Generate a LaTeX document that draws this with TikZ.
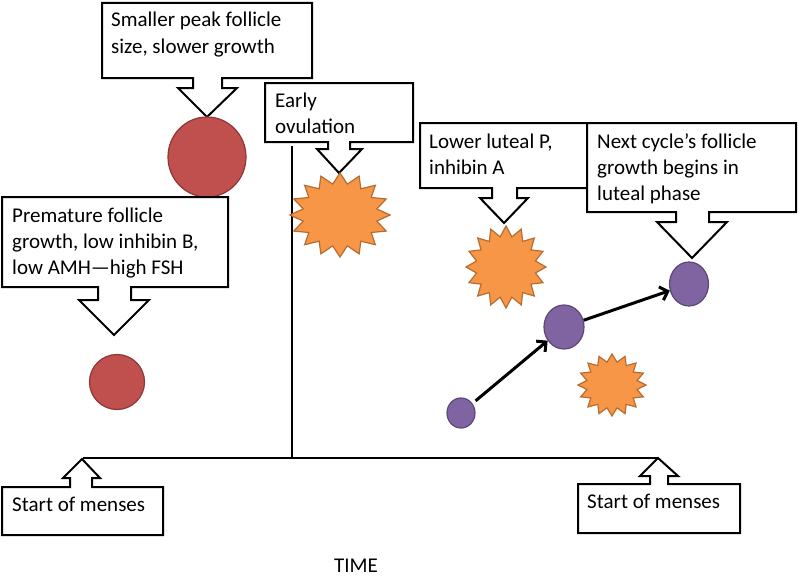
\documentclass[tikz,border=0pt]{standalone}
\usepackage{fontspec}
\setmainfont{Carlito}
\usetikzlibrary{shapes.geometric,arrows.meta}
\definecolor{redf}{HTML}{C0504D}
\definecolor{redd}{HTML}{8C3836}
\definecolor{orf}{HTML}{F79646}
\definecolor{ord}{HTML}{B66D31}
\definecolor{puf}{HTML}{8064A2}
\definecolor{pud}{HTML}{5C4776}
\newcommand\burstshape[4]{%
  \filldraw[burst] ({#1+#3},#2) \foreach \k in {0,...,15}{
    -- ({#1+0.75*#3*cos(\k*22.5+11.25)},{#2+0.75*#4*sin(\k*22.5+11.25)})
    -- ({#1+#3*cos(\k*22.5+22.5)},{#2+#4*sin(\k*22.5+22.5)}) } -- cycle;}
\tikzset{
  callout/.style={draw=black, fill=white, line width=2pt, line join=miter},
  txt/.style={anchor=base west, inner sep=0pt, align=left,
    font=\fontsize{21}{26}\selectfont},
  redball/.style={ellipse, draw=redd, fill=redf, line width=1.2pt, inner sep=0pt},
  purball/.style={ellipse, draw=pud, fill=puf, line width=1.2pt, inner sep=0pt},
  burst/.style={draw=ord, fill=orf, line width=1.2pt},
  axis/.style={draw=black, line width=2pt},
  growth/.style={draw=black, line width=3pt, -{Straight Barb[length=7pt,width=14pt]}}
}
\begin{document}
\begin{tikzpicture}[x=1pt,y=-1pt]
\useasboundingbox (0,0) rectangle (800,578);
\fill[white] (0,0) rectangle (800,578);

% timeline
\coordinate (tl) at (83,458);
\coordinate (tr) at (658,458);
\coordinate (vt) at (292,146);
\coordinate (vb) at (292,458);
\draw[axis] (tl) -- (tr);
\draw[axis] (vt) -- (vb);

% callout 1 (base anchor = last line's baseline)
\draw[callout] (102,3) -- (312,3) -- (312,78) -- (222,78) -- (222,88) -- (237,88) -- (207,117) -- (178,88) -- (193,88) -- (193,78) -- (102,78) -- cycle;
\node[txt] (t1) at (111,53) {Smaller peak follicle\\size, slower growth};
\node[redball, minimum width=78pt, minimum height=80pt] (c1) at (207,157) {};

% callout 2
\draw[callout] (2,197) -- (228,197) -- (228,287) -- (131,287) -- (131,300) -- (149,300) -- (114,335) -- (79,300) -- (98,300) -- (98,287) -- (2,287) -- cycle;
\node[txt] (t2) at (12,274) {Premature follicle\\growth, low inhibin B,\\low AMH---high FSH};
\node[redball, minimum width=55pt, minimum height=55pt] (c2) at (117,382) {};

% callout 3
\draw[callout] (265,83) -- (413,83) -- (413,142) -- (350,142) -- (350,149) -- (362,149) -- (339,173) -- (317,149) -- (328,149) -- (328,142) -- (265,142) -- cycle;
\node[txt] (t3) at (275,133) {Early\\ovulation};
\burstshape{340}{215}{50}{42}

% callout 4
\draw[callout] (420,123) -- (587,123) -- (587,188) -- (517,188) -- (517,198) -- (528,198) -- (504,223) -- (480,198) -- (492,198) -- (492,188) -- (420,188) -- cycle;
\node[txt] (t4) at (429,174) {Lower luteal P,\\inhibin A};
\burstshape{506}{267}{40}{41}

% callout 5
\draw[callout] (587,123) -- (796,123) -- (796,212) -- (709,212) -- (709,222) -- (727,222) -- (692,258) -- (657,222) -- (676,222) -- (676,212) -- (587,212) -- cycle;
\node[txt] (t5) at (597,200) {Next cycle’s follicle\\growth begins in\\luteal phase};

% small burst
\burstshape{612}{385}{34}{31}

% purple follicles
\node[purball, minimum width=28pt, minimum height=30pt] (p1) at (461,413) {};
\node[purball, minimum width=40pt, minimum height=44pt] (p2) at (564,327) {};
\node[purball, minimum width=39pt, minimum height=44pt] (p3) at (689,284) {};
\draw[growth, shorten <=4pt] (p1) -- (p2);
\draw[growth] (p2) -- (p3);

% bottom callouts
\draw[callout] (2,487) -- (70,487) -- (70,478) -- (63,478) -- (82,459) -- (100,478) -- (92,478) -- (92,487) -- (163,487) -- (163,535) -- (2,535) -- cycle;
\node[txt] (b1) at (12,511) {Start of menses};
\draw[callout] (578,484) -- (650,484) -- (650,476) -- (640,476) -- (658,458) -- (678,476) -- (668,476) -- (668,484) -- (740,484) -- (740,533) -- (578,533) -- cycle;
\node[txt] (b2) at (587,508) {Start of menses};

\node[txt, anchor=base] (time) at (356,572) {TIME};
\end{tikzpicture}
\end{document}
